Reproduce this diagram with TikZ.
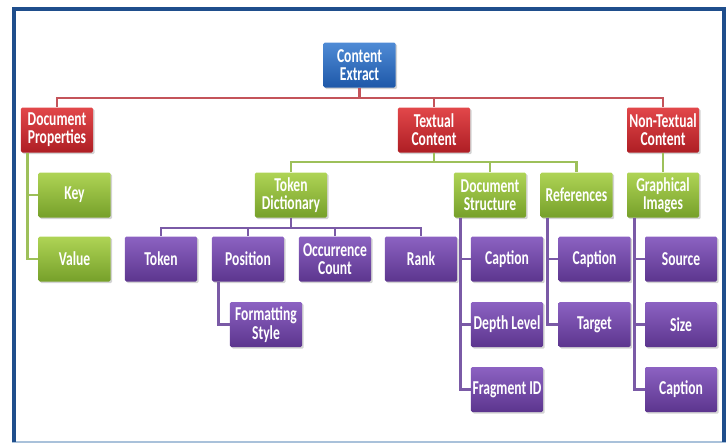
\documentclass[tikz,border=0pt]{standalone}
\usepackage{fontspec}
\setmainfont{Carlito}[FakeStretch=0.69]
\usetikzlibrary{shadows,calc}

\definecolor{azulA}{HTML}{4F8BD6}
\definecolor{azulB}{HTML}{1E58A8}
\definecolor{vermA}{HTML}{E2474A}
\definecolor{vermB}{HTML}{AE1E24}
\definecolor{verdeA}{HTML}{AFD455}
\definecolor{verdeB}{HTML}{76A02A}
\definecolor{roxoA}{HTML}{8C62C2}
\definecolor{roxoB}{HTML}{5C358E}
\definecolor{linhaverm}{HTML}{C4545A}
\definecolor{linhaverde}{HTML}{9DC05A}
\definecolor{linharoxo}{HTML}{7A5AA6}
\definecolor{moldura}{HTML}{1F4E8C}
\definecolor{molduraclara}{HTML}{A9C1DA}

\tikzset{
    caixa/.style={minimum width=1.8cm, minimum height=1.125cm, inner xsep=1pt,
        rounded corners=1pt, align=center, text=white,
        font=\bfseries\fontsize{14}{13}\selectfont,
        drop shadow={opacity=0.35, shadow xshift=1.2pt, shadow yshift=-1.2pt}},
    azul/.style={caixa, top color=azulA, bottom color=azulB},
    verm/.style={caixa, top color=vermA, bottom color=vermB},
    verde/.style={caixa, top color=verdeA, bottom color=verdeB},
    roxo/.style={caixa, top color=roxoA, bottom color=roxoB},
    lverm/.style={draw=linhaverm, line width=2pt},
    lverde/.style={draw=linhaverde, line width=2pt},
    lroxo/.style={draw=linharoxo, line width=2pt},
}

\begin{document}
\begin{tikzpicture}[x=0.025cm, y=-0.025cm]
    \useasboundingbox (0,0) rectangle (728,443);

    % Moldura
    \draw[molduraclara, line width=1.2pt] (12,442) -- (726,442);
    \draw[moldura, line width=2.8pt] (14,442) -- (14,9) -- (724,9) -- (724,442);

    % Barramentos
    \coordinate (barverm) at (0,98);
    \coordinate (barverde) at (0,162);
    \coordinate (barroxo) at (0,228);

    % Raiz e primeiro nivel
    \node[azul] (ce) at (359.5,65) {Content\\Extract};
    \node[verm] (dp) at (57,130) {Document\\Properties};
    \node[verm] (tc) at (434,130) {Textual\\Content};
    \node[verm] (ntc) at (663,130) {Non-Textual\\Content};

    % Segundo nivel
    \node[verde] (key) at (74.5,195) {Key};
    \node[verde] (value) at (74.5,259) {Value};
    \node[verde] (td) at (291,195) {Token\\Dictionary};
    \node[verde] (ds) at (490,195) {Document\\Structure};
    \node[verde] (ref) at (576.5,195) {References};
    \node[verde] (gi) at (663,195) {Graphical\\Images};

    % Folhas
    \node[roxo] (tok) at (161,259) {Token};
    \node[roxo] (pos) at (248,259) {Position};
    \node[roxo] (occ) at (335,259) {Occurrence\\Count};
    \node[roxo] (rank) at (421,259) {Rank};
    \node[roxo] (fs) at (266,324.5) {Formatting\\Style};
    \node[roxo] (dscap) at (507,259) {Caption};
    \node[roxo] (depth) at (507,324.5) {Depth Level};
    \node[roxo] (frag) at (507,389.5) {Fragment ID};
    \node[roxo] (refcap) at (594.5,259) {Caption};
    \node[roxo] (target) at (594.5,324.5) {Target};
    \node[roxo] (src) at (681,259) {Source};
    \node[roxo] (size) at (681,324.5) {Size};
    \node[roxo] (gicap) at (681,389.5) {Caption};

    % Hastes laterais
    \coordinate (dpstem) at ($(dp.south west)+(7,0)$);
    \coordinate (posstem) at ($(pos.south west)+(7,0)$);
    \coordinate (dsstem) at ($(ds.south west)+(7,0)$);
    \coordinate (refstem) at ($(ref.south west)+(7,0)$);
    \coordinate (gistem) at ($(gi.south west)+(8,0)$);

    % Ligacoes vermelhas
    \foreach \filho in {dp,tc,ntc}
        \draw[lverm] (ce.south) -- (ce.south |- barverm) -| (\filho.north);

    % Ligacoes verdes
    \foreach \filho in {td,ds,ref}
        \draw[lverde] (tc.south) -- (tc.south |- barverde) -| (\filho.north);
    \draw[lverde] (ntc.south) -- (gi.north);
    \foreach \filho in {key,value}
        \draw[lverde] (dpstem) |- (\filho.west);

    % Ligacoes roxas
    \foreach \filho in {tok,pos,occ,rank}
        \draw[lroxo] (td.south) -- (td.south |- barroxo) -| (\filho.north);
    \draw[lroxo] (posstem) |- (fs.west);
    \foreach \filho in {dscap,depth,frag}
        \draw[lroxo] (dsstem) |- (\filho.west);
    \foreach \filho in {refcap,target}
        \draw[lroxo] (refstem) |- (\filho.west);
    \foreach \filho in {src,size,gicap}
        \draw[lroxo] (gistem) |- (\filho.west);

\end{tikzpicture}
\end{document}
